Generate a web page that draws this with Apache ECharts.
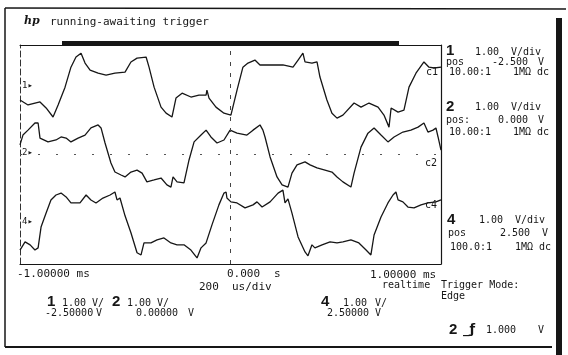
<!DOCTYPE html>
<html>
<head>
<meta charset="utf-8">
<script src="https://cdn.jsdelivr.net/npm/echarts@6/dist/echarts.min.js"></script>
<style>
  html, body { margin: 0; padding: 0; background: #fff; }
  #chart { width: 568px; height: 355px; }
</style>
</head>
<body>
<div id="chart"></div>
<script>
// time base: -1 ms .. +1 ms, 200 us/div
const timeMin = -1;
const timeMax = 1;
const divisions = 4; // screen runs -4 .. +4 div

// channel settings
const ch1Pos = -2.5, ch2Pos = 0, ch4Pos = 2.5;
const voltsPerDiv = 1.0;

// channel 1 (ms, volts)
const ch1T = [-1.000, -0.962, -0.905, -0.876, -0.843, -0.819, -0.786, -0.758, -0.734, -0.710,
  -0.691, -0.667, -0.629, -0.591, -0.549, -0.501, -0.473, -0.444, -0.401, -0.387,
  -0.363, -0.330, -0.306, -0.278, -0.268, -0.259, -0.230, -0.188, -0.150, -0.116,
  -0.112, -0.102, -0.069, -0.031, 0.002, 0.031, 0.059, 0.083, 0.116, 0.140,
  0.188, 0.249, 0.297, 0.321, 0.344, 0.354, 0.387, 0.411, 0.425, 0.458,
  0.482, 0.506, 0.534, 0.587, 0.620, 0.658, 0.701, 0.729, 0.753, 0.763,
  0.796, 0.824, 0.848, 0.881, 0.919, 0.943, 0.967, 1.000];
const ch1V = [-0.51, -0.69, -0.58, -0.80, -1.13, -0.69, -0.04, 0.69, 1.06, 1.20,
  0.84, 0.58, 0.47, 0.40, 0.47, 0.51, 0.88, 1.02, 1.06, 0.69,
  -0.04, -0.77, -0.99, -1.13, -0.77, -0.44, -0.26, -0.40, -0.33, -0.33,
  -0.15, -0.44, -0.77, -0.99, -1.06, -0.15, 0.69, 0.84, 0.95, 0.77,
  0.77, 0.77, 0.69, 0.95, 1.20, 0.88, 0.84, 0.88, 0.33, -0.51,
  -0.99, -1.17, -1.06, -0.62, -0.77, -0.62, -0.77, -1.06, -1.50, -0.80,
  -0.95, -0.88, -0.04, 0.47, 0.88, 0.69, 0.66, 0.69];

// channel 2
const ch2T = [-1.000, -0.986, -0.962, -0.929, -0.914, -0.905, -0.867, -0.829, -0.805, -0.781,
  -0.758, -0.724, -0.691, -0.663, -0.629, -0.615, -0.596, -0.568, -0.549, -0.520,
  -0.501, -0.473, -0.444, -0.420, -0.397, -0.363, -0.330, -0.302, -0.283, -0.273,
  -0.254, -0.221, -0.197, -0.173, -0.140, -0.116, -0.093, -0.064, -0.031, -0.002,
  0.031, 0.078, 0.107, 0.140, 0.154, 0.164, 0.188, 0.221, 0.245, 0.273,
  0.292, 0.316, 0.354, 0.378, 0.411, 0.449, 0.482, 0.506, 0.534, 0.572,
  0.587, 0.620, 0.653, 0.682, 0.715, 0.748, 0.777, 0.819, 0.857, 0.891,
  0.919, 0.938, 0.962, 0.976, 0.986, 1.000];
const ch2V = [0.35, 0.71, 0.89, 1.15, 1.15, 0.60, 0.46, 0.53, 0.64, 0.60,
  0.46, 0.60, 0.71, 0.97, 1.08, 0.97, 0.42, -0.31, -0.64, -0.75,
  -0.82, -0.64, -0.57, -0.68, -1.00, -0.93, -0.86, -1.11, -1.19, -0.82,
  -1.00, -1.04, -0.20, 0.46, 0.71, 0.89, 0.64, 0.42, 0.53, 0.89,
  0.78, 0.71, 0.89, 1.08, 0.89, 0.64, -0.09, -0.82, -1.11, -1.19,
  -0.68, -0.38, -0.27, -0.38, -0.49, -0.57, -0.64, -0.82, -1.00, -1.19,
  -0.68, 0.27, 0.78, 0.97, 0.71, 0.46, 0.64, 0.82, 0.89, 1.00,
  1.15, 0.82, 0.89, 0.97, 0.64, 0.16];

// channel 4
const ch4T = [-1.000, -0.976, -0.952, -0.929, -0.914, -0.900, -0.876, -0.853, -0.829, -0.805,
  -0.781, -0.758, -0.715, -0.686, -0.663, -0.639, -0.606, -0.572, -0.549, -0.539,
  -0.525, -0.501, -0.473, -0.444, -0.425, -0.411, -0.378, -0.349, -0.316, -0.283,
  -0.254, -0.221, -0.188, -0.159, -0.140, -0.116, -0.088, -0.055, -0.031, -0.021,
  -0.017, 0.002, 0.031, 0.069, 0.107, 0.126, 0.150, 0.188, 0.226, 0.249,
  0.259, 0.273, 0.292, 0.321, 0.354, 0.368, 0.387, 0.401, 0.435, 0.473,
  0.506, 0.534, 0.572, 0.610, 0.644, 0.667, 0.682, 0.715, 0.748, 0.772,
  0.786, 0.796, 0.819, 0.843, 0.872, 0.905, 0.938, 0.976, 1.000];
const ch4V = [-0.99, -0.69, -0.80, -0.99, -0.91, -0.15, 0.36, 0.84, 1.02, 1.09,
  0.95, 0.73, 0.73, 1.02, 0.84, 0.73, 0.91, 1.02, 1.13, 0.84,
  0.91, 0.26, -0.36, -1.09, -1.17, -0.73, -0.73, -0.62, -0.55, -0.73,
  -0.80, -0.80, -0.99, -1.28, -0.91, -0.73, -0.07, 0.66, 1.09, 1.13,
  0.91, 0.77, 0.73, 0.55, 0.66, 0.77, 0.58, 0.77, 1.09, 1.20,
  0.73, 0.88, 0.36, -0.51, -1.06, -1.20, -0.80, -0.91, -0.80, -0.69,
  -0.73, -0.69, -0.62, -0.73, -0.99, -1.17, -0.44, 0.22, 0.73, 1.02,
  1.13, 0.84, 0.77, 0.58, 0.55, 0.66, 0.73, 0.77, 0.84];

// volts -> screen divisions
function toScreen(times, volts, pos) {
  return times.map((t, i) => [t, (volts[i] - pos) / voltsPerDiv]);
}

const ink = "#161616";
const mono = "DejaVu Sans Mono";

function txt(x, y, text, size, extra) {
  return {
    type: "text", x: x, y: y, silent: true,
    style: Object.assign({
      text: text,
      font: (size || 10) + "px '" + mono + "'",
      fill: ink,
      textVerticalAlign: "middle"
    }, extra || {})
  };
}
function big(x, y, text) {
  return txt(x, y, text, 15, { font: "bold 15px 'Liberation Sans'" });
}
function line(x1, y1, x2, y2, w) {
  return {
    type: "line", silent: true,
    shape: { x1: x1, y1: y1, x2: x2, y2: y2 },
    style: { stroke: ink, lineWidth: w || 1.5 }
  };
}

const chart = echarts.init(document.getElementById("chart"));

const traceStyle = { color: ink, width: 1.3 };
const hidden = { show: false };

chart.setOption({
  animation: false,
  backgroundColor: "#fff",
  grid: { left: 20, right: 127, top: 45, bottom: 91 },
  xAxis: [
    {
      type: "value", min: timeMin, max: timeMax, interval: 1,
      axisLine: { show: true, onZero: false, lineStyle: { color: ink, width: 1.2 } },
      axisTick: hidden, axisLabel: hidden, splitLine: hidden
    },
    {
      type: "value", position: "top", min: timeMin, max: timeMax,
      axisLine: { show: true, onZero: false, lineStyle: { color: ink, width: 1 } },
      axisTick: hidden, axisLabel: hidden, splitLine: hidden
    }
  ],
  yAxis: [
    {
      type: "value", min: -divisions, max: divisions, interval: 1,
      axisLine: { show: true, onZero: false, lineStyle: { color: "#333", width: 1, type: [6, 3] } },
      axisTick: hidden, axisLabel: hidden, splitLine: hidden
    },
    {
      type: "value", position: "right", min: -divisions, max: divisions,
      axisLine: { show: true, onZero: false, lineStyle: { color: ink, width: 1.2 } },
      axisTick: hidden, axisLabel: hidden, splitLine: hidden
    }
  ],
  series: [
    {
      name: "c1", type: "line", showSymbol: false,
      data: toScreen(ch1T, ch1V, ch1Pos),
      lineStyle: traceStyle,
      markLine: {
        silent: true, symbol: "none", label: hidden,
        lineStyle: { color: "#444", width: 1, type: [4, 7] },
        data: [{ xAxis: 0 }]
      }
    },
    {
      name: "c2", type: "line", showSymbol: false,
      data: toScreen(ch2T, ch2V, ch2Pos),
      lineStyle: traceStyle,
      markLine: {
        silent: true, symbol: "none", label: hidden,
        lineStyle: { color: "#555", width: 1, type: [2, 16] },
        data: [{ yAxis: 0 }]
      }
    },
    {
      name: "c4", type: "line", showSymbol: false,
      data: toScreen(ch4T, ch4V, ch4Pos),
      lineStyle: traceStyle
    }
  ],
  graphic: [
    // scanned page frame
    line(5, 8, 566, 9, 1.5),
    line(5, 8, 5, 347, 1.5),
    line(5, 347, 552, 347, 2),
    { type: "rect", silent: true, shape: { x: 556, y: 18, width: 6, height: 337 }, style: { fill: ink } },
    // memory bar over the graticule
    { type: "rect", silent: true, shape: { x: 62, y: 41, width: 337, height: 4 }, style: { fill: ink } },

    // header
    txt(24, 21, "hp", 11, { font: "italic bold 11px 'DejaVu Serif'" }),
    txt(50, 22, "running-awaiting trigger", 11),

    // trace markers
    txt(22, 86, "1▸", 9),
    txt(22, 153, "2▸", 9),
    txt(22, 222, "4▸", 9),
    txt(426, 72, "c1", 10),
    txt(425, 163, "c2", 10),
    txt(425, 205, "c4", 10),

    // channel 1 panel
    big(446, 51, "1"), txt(475, 52, "1.00"), txt(511, 52, "V/div"),
    txt(446, 62, "pos"), txt(492, 62, "-2.500"), txt(538, 62, "V"),
    txt(449, 72, "10.00:1"), txt(513, 72, "1MΩ dc"),
    // channel 2 panel
    big(446, 107, "2"), txt(475, 107, "1.00"), txt(511, 107, "V/div"),
    txt(446, 120, "pos:"), txt(498, 120, "0.000"), txt(538, 120, "V"),
    txt(449, 132, "10.00:1"), txt(513, 132, "1MΩ dc"),
    // channel 4 panel
    big(447, 220, "4"), txt(479, 220, "1.00"), txt(515, 220, "V/div"),
    txt(448, 233, "pos"), txt(500, 233, "2.500"), txt(542, 233, "V"),
    txt(450, 247, "100.0:1"), txt(515, 247, "1MΩ dc"),

    // time base
    txt(17, 274, "-1.00000 ms", 11),
    txt(227, 274, "0.000", 11), txt(274, 274, "s", 11),
    txt(370, 275, "1.00000 ms", 11),
    txt(199, 287, "200", 11), txt(232, 287, "us/div", 11),
    txt(382, 285, "realtime", 10), txt(441, 285, "Trigger Mode:", 10),
    txt(441, 296, "Edge", 10),

    // summary line
    big(47, 302, "1"), txt(62, 303, "1.00"), txt(92, 303, "V/"),
    big(112, 302, "2"), txt(127, 303, "1.00"), txt(157, 303, "V/"),
    txt(45, 313, "-2.50000"), txt(96, 313, "V"),
    txt(136, 313, "0.00000"), txt(188, 313, "V"),
    big(321, 302, "4"), txt(343, 303, "1.00"), txt(375, 303, "V/"),
    txt(327, 313, "2.50000"), txt(375, 313, "V"),

    // trigger
    big(449, 330, "2"),
    txt(463, 330, "_ƒ", 13, { font: "bold 13px 'DejaVu Sans'" }),
    txt(486, 330, "1.000"), txt(538, 330, "V")
  ]
});
</script>
</body>
</html>
